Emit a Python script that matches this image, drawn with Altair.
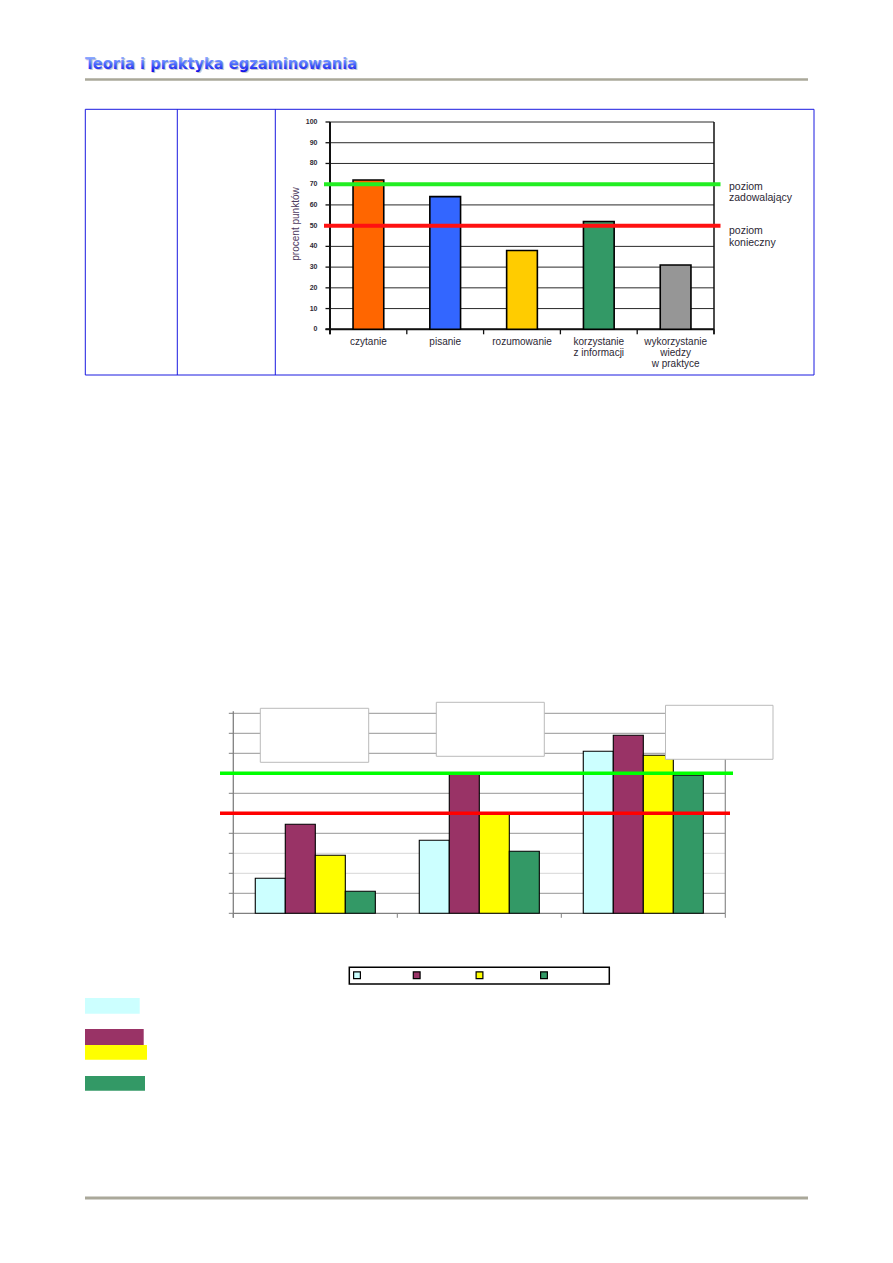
import altair as alt
import pandas as pd

# ---------------- data ----------------
title_text = "Teoria i praktyka egzaminowania"

skills = ["czytanie", "pisanie", "rozumowanie", "korzystanie z informacji",
          "wykorzystanie wiedzy w praktyce"]
skill_labels = ["czytanie", "pisanie", "rozumowanie", "korzystanie\nz informacji",
                "wykorzystanie\nwiedzy\nw praktyce"]
skill_scores = [72, 64, 38, 52, 31]
score_ticks = [0, 10, 20, 30, 40, 50, 60, 70, 80, 90, 100]
y_title = "procent punktów"

level_names = ["poziom zadowalający", "poziom konieczny"]
level_labels = ["poziom\nzadowalający", "poziom\nkonieczny"]
level_values = [70, 50]

groups = ["grupa 1", "grupa 2", "grupa 3"]
series = ["seria 1", "seria 2", "seria 3", "seria 4"]
series_1 = [17.5, 36.5, 81]
series_2 = [44.5, 69.5, 89]
series_3 = [29, 50, 79]
series_4 = [11, 31, 69]
light_grid = [20, 30]

# ---------------- styles ----------------
skill_colors = ["#ff6600", "#3366ff", "#ffcc00", "#339966", "#969696"]
level_colors = ["#22ee22", "#ff1111"]
level_colors_bottom = ["#00ff00", "#ff0000"]
series_colors = ["#ccffff", "#993366", "#ffff00", "#339966"]
TABLE_BLUE = "#1a1ae0"
RULE_GREY = "#aaa89a"
TXT = "#2c2834"
FONT = "Liberation Sans, Arial, sans-serif"
TITLE_FONT = "Liberation Sans Narrow, DejaVu Sans Condensed, Arial Narrow, sans-serif"

# ---------------- layout (page pixels) ----------------
M = 8
W, H = 877, 1240


def px(v):
    return v - M


T_X0, T_X1, T_Y0, T_Y1 = 330, 714, 329.3, 122
B_X0, B_X1, B_Y0, B_Y1 = 233.3, 725.3, 913.3, 713.3
legend_swatch_x = [357, 416.7, 479.5, 544]
legend_swatch_y = 975.2
swatch_x2 = [139.7, 143.7, 147, 145]
swatch_y1 = [998, 1029, 1045, 1076]
swatch_y2 = [1013.7, 1045, 1059.7, 1090.7]
text_boxes = [(260.3, 708.3, 368.7, 762.3), (436.3, 702.3, 544.3, 756.3), (665.5, 705.3, 773, 759.3)]
bottom_level_x_end = [733, 730]

one = pd.DataFrame({"k": [0]})


def base(df=one):
    return alt.Chart(df)


def vrule(x, y1, y2, color, w):
    return base().mark_rule(color=color, strokeWidth=w).encode(
        x=alt.value(px(x)), y=alt.value(px(y1)), y2=alt.value(px(y2)))


def hrule(x1, x2, y, color, w):
    return base().mark_rule(color=color, strokeWidth=w).encode(
        x=alt.value(px(x1)), x2=alt.value(px(x2)), y=alt.value(px(y)))


def box(x1, y1, x2, y2, **kw):
    return base().mark_rect(**kw).encode(
        x=alt.value(px(x1)), x2=alt.value(px(x2)), y=alt.value(px(y1)), y2=alt.value(px(y2)))


layers = []

# ---------------- header ----------------
title_grad = alt.LinearGradient(
    gradient="linear", x1=0, y1=0, x2=0, y2=1,
    stops=[alt.GradientStop(offset=0, color="#b4ccff"),
           alt.GradientStop(offset=0.5, color="#5577ff"),
           alt.GradientStop(offset=1, color="#0808e6")])
TITLE_SIZE = 16.3
layers.append(base().mark_text(
    align="left", baseline="alphabetic", fontSize=TITLE_SIZE, fontWeight=900,
    font=TITLE_FONT, fill="#c4c4d4", dx=1.2, dy=1.2).encode(
    x=alt.value(px(85)), y=alt.value(px(68.5)), text=alt.value(title_text)))
layers.append(base().mark_text(
    align="left", baseline="alphabetic", fontSize=TITLE_SIZE, fontWeight=900,
    font=TITLE_FONT, fill=title_grad).encode(
    x=alt.value(px(85)), y=alt.value(px(68.5)), text=alt.value(title_text)))
layers.append(hrule(85, 808, 79.5, RULE_GREY, 2.5))
layers.append(hrule(85, 808, 1198, RULE_GREY, 3))

# ---------------- table frame ----------------
layers.append(box(85.3, 109.3, 814, 375, fillOpacity=0, stroke=TABLE_BLUE, strokeWidth=1))
layers.append(vrule(177.3, 109.3, 375, TABLE_BLUE, 1))
layers.append(vrule(275.3, 109.3, 375, TABLE_BLUE, 1))

# ---------------- top chart ----------------
ys_top = alt.Scale(domain=[0, 100], range=[px(T_Y0), px(T_Y1)], nice=False, zero=False)
xs_top = alt.Scale(type="band", domain=skills, range=[px(T_X0), px(T_X1)],
                   paddingInner=0.6, paddingOuter=0.3)
ticks_df = pd.DataFrame({"v": score_ticks})

layers.append(base(ticks_df).mark_rule(color="#2a2a2a", strokeWidth=1).encode(
    y=alt.Y("v:Q", scale=ys_top, axis=None),
    x=alt.value(px(T_X0)), x2=alt.value(px(T_X1))))
layers.append(base(ticks_df).mark_rule(color="#111", strokeWidth=1.3).encode(
    y=alt.Y("v:Q", scale=ys_top, axis=None),
    x=alt.value(px(T_X0 - 4.5)), x2=alt.value(px(T_X0))))
layers.append(base(ticks_df).mark_text(
    align="right", baseline="middle", fontSize=7, fontWeight="bold", font=FONT,
    color="#2e2a36").encode(
    y=alt.Y("v:Q", scale=ys_top, axis=None), x=alt.value(px(317.5)), text="v:Q"))

bound_df = pd.DataFrame({"b": list(range(len(skills) + 1))})
layers.append(base(bound_df).mark_rule(color="#111", strokeWidth=1.3).encode(
    x=alt.X("b:Q", scale=alt.Scale(domain=[0, len(skills)], range=[px(T_X0), px(T_X1)],
                                   nice=False, zero=False), axis=None),
    y=alt.value(px(T_Y0)), y2=alt.value(px(T_Y0 + 5))))
layers.append(vrule(T_X0, T_Y1, T_Y0 + 5, "#111", 2))
layers.append(vrule(T_X1, T_Y1, T_Y0 + 5, "#111", 1.5))
layers.append(hrule(T_X0 - 4.5, T_X1, T_Y0, "#111", 2))

top_df = pd.DataFrame({"skill": skills, "score": skill_scores, "label": skill_labels})
layers.append(base(top_df).mark_bar(stroke="#000", strokeWidth=1.6).encode(
    x=alt.X("skill:N", scale=xs_top, axis=None),
    y=alt.Y("score:Q", scale=ys_top, axis=None),
    color=alt.Color("skill:N", scale=alt.Scale(domain=skills, range=skill_colors), legend=None)))
layers.append(base(top_df).mark_text(
    baseline="top", lineBreak="\n", fontSize=10, font=FONT, color=TXT, lineHeight=11).encode(
    x=alt.X("skill:N", scale=xs_top, axis=None),
    y=alt.value(px(337)), text="label:N"))

lvl_df = pd.DataFrame({"level": level_names, "value": level_values, "label": level_labels})
layers.append(base(lvl_df).mark_rule(strokeWidth=4).encode(
    y=alt.Y("value:Q", scale=ys_top, axis=None),
    x=alt.value(px(324)), x2=alt.value(px(720.5)),
    color=alt.Color("level:N", scale=alt.Scale(domain=level_names, range=level_colors), legend=None)))
for i, dy in enumerate([2.5, 5.5]):
    layers.append(base(lvl_df.iloc[[i]]).mark_text(
        align="left", baseline="middle", lineBreak="\n", fontSize=10.5, font=FONT,
        color=TXT, lineHeight=11.5, dy=dy).encode(
        y=alt.Y("value:Q", scale=ys_top, axis=None), x=alt.value(px(729)), text="label:N"))
layers.append(base().mark_text(angle=270, fontSize=10, font=FONT, color="#4e3a5e").encode(
    x=alt.value(px(296)), y=alt.value(px(224)), text=alt.value(y_title)))

# ---------------- bottom chart ----------------
ys_bot = alt.Scale(domain=[0, 100], range=[px(B_Y0), px(B_Y1)], nice=False, zero=False)
gticks_df = pd.DataFrame({"v": score_ticks[1:]})
gticks_df["light"] = gticks_df["v"].isin(light_grid)
layers.append(base(gticks_df).mark_rule(strokeWidth=1).encode(
    y=alt.Y("v:Q", scale=ys_bot, axis=None),
    x=alt.value(px(B_X0)), x2=alt.value(px(B_X1)),
    color=alt.condition("datum.light", alt.value("#d6d6d6"), alt.value("#969696"))))
layers.append(base(ticks_df).mark_rule(color="#808080", strokeWidth=1).encode(
    y=alt.Y("v:Q", scale=ys_bot, axis=None),
    x=alt.value(px(B_X0 - 4.5)), x2=alt.value(px(B_X0))))
gb_df = pd.DataFrame({"b": list(range(len(groups) + 1))})
layers.append(base(gb_df).mark_rule(color="#808080", strokeWidth=1).encode(
    x=alt.X("b:Q", scale=alt.Scale(domain=[0, len(groups)], range=[px(B_X0), px(B_X1)],
                                   nice=False, zero=False), axis=None),
    y=alt.value(px(B_Y0)), y2=alt.value(px(B_Y0 + 4.5))))
layers.append(vrule(B_X0, B_Y1 - 2, B_Y0 + 4.5, "#808080", 1.3))
layers.append(vrule(B_X1, B_Y1, B_Y0, "#8c8c8c", 1.2))
layers.append(hrule(B_X0, B_X1, B_Y0, "#808080", 1.3))

rows = []
for s, vals in zip(series, [series_1, series_2, series_3, series_4]):
    for g, v in zip(groups, vals):
        rows.append({"group": g, "series": s, "value": v})
bot_df = pd.DataFrame(rows)
layers.append(base(bot_df).mark_bar(stroke="#000", strokeWidth=1.1).encode(
    x=alt.X("group:N", scale=alt.Scale(type="band", domain=groups, range=[px(B_X0), px(B_X1)],
                                       paddingInner=0.268, paddingOuter=0.134), axis=None),
    xOffset=alt.XOffset("series:N", scale=alt.Scale(domain=series, paddingInner=0, paddingOuter=0)),
    y=alt.Y("value:Q", scale=ys_bot, axis=None),
    color=alt.Color("series:N", scale=alt.Scale(domain=series, range=series_colors), legend=None)))

for i in range(len(level_names)):
    layers.append(base(lvl_df.iloc[[i]]).mark_rule(
        strokeWidth=3.5, color=level_colors_bottom[i]).encode(
        y=alt.Y("value:Q", scale=ys_bot, axis=None),
        x=alt.value(px(220)), x2=alt.value(px(bottom_level_x_end[i]))))

for (x1, y1, x2, y2) in text_boxes:
    layers.append(box(x1, y1, x2, y2, fill="white", stroke="#bbbbbb", strokeWidth=1))

# legend
layers.append(box(349.3, 967.3, 609.3, 984, fill="white", stroke="#000", strokeWidth=1.5))
for i, s in enumerate(series):
    layers.append(base().mark_square(size=46, opacity=1, filled=True, stroke="#000",
                                     strokeWidth=1.2, fill=series_colors[i]).encode(
        x=alt.value(px(legend_swatch_x[i])), y=alt.value(px(legend_swatch_y))))

# colour swatches below the chart
for i, s in enumerate(series):
    layers.append(box(85, swatch_y1[i], swatch_x2[i], swatch_y2[i], fill=series_colors[i]))

chart = alt.layer(*layers).resolve_scale(
    x="independent", y="independent", color="independent"
).properties(
    width=W, height=H, autosize=alt.AutoSizeParams(type="none"), padding=0
).configure_view(stroke=None)

chart.save("out.html", embed_options={"renderer": "svg", "actions": False})
